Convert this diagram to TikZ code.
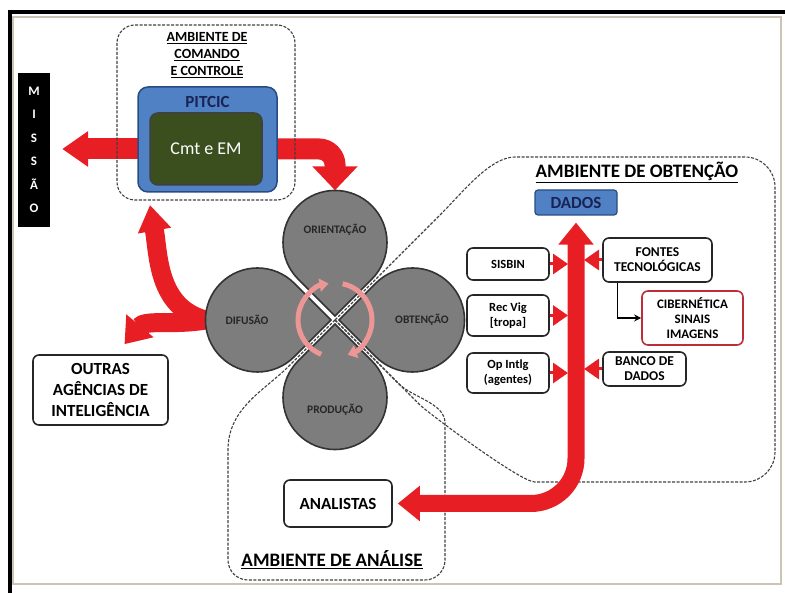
\documentclass[tikz,border=0pt]{standalone}
\usepackage{fontspec}
\setmainfont{Carlito}
\usepackage{tikz}
\usetikzlibrary{calc,arrows.meta,positioning,backgrounds}
\definecolor{setared}{RGB}{232,30,37}
\definecolor{pitblue}{RGB}{79,129,196}
\definecolor{pitedge}{RGB}{40,75,130}
\definecolor{cmtgreen}{RGB}{58,78,30}
\definecolor{petalgray}{RGB}{125,125,125}
\definecolor{cyclepink}{RGB}{236,150,150}
\definecolor{frametan}{RGB}{205,195,180}
\definecolor{navy}{RGB}{25,35,85}
\definecolor{cibred}{RGB}{190,45,55}
\tikzset{
  caixa/.style={draw=black!85,line width=1.6pt,rounded corners=6pt,fill=white,align=center,inner sep=1pt},
  ambiente/.style={draw=black!75,line width=1.1pt,dash pattern=on 3pt off 1.5pt},
  seta/.style={draw=setared,line width=21pt,-{Triangle[width=40pt,length=24pt]}},
  petala/.style={fill=petalgray,draw=black!80,line width=1.6pt},
  rotulo/.style={font=\bfseries\fontsize{11.5}{12}\selectfont,text=black!85},
  aba/.style={draw=setared,line width=3pt,-{Triangle[width=20pt,length=15pt]}},
  ciclo/.style={draw=cyclepink,line width=5pt,-{Triangle[width=13pt,length=9pt]}}
}

\begin{document}
\begin{tikzpicture}[x=1pt,y=1pt]
  \useasboundingbox (0,0) rectangle (785,593);
  % moldura
  \draw[frametan,line width=1.5pt] (13,9) rectangle (781,576);
  \draw[line width=4pt] (8,581) -- (785,581);
  \draw[line width=4pt] (10,583) -- (10,0);

  \node[fill=black,text=white,minimum width=32,minimum height=154,inner sep=0,align=center,
        font=\bfseries\fontsize{13}{23.5}\selectfont] (missao) at (34,443) {M\\I\\S\\S\\Ã\\O};

  \draw[ambiente,rounded corners=18] (117,568) rectangle (295,393);
  \node[font=\bfseries\fontsize{14}{17}\selectfont,align=center] (tcomando) at (207,538)
       {\underline{AMBIENTE DE}\\\underline{COMANDO}\\\underline{E CONTROLE}};
  \node[draw=pitedge,fill=pitblue,line width=1.5pt,rounded corners=10,minimum width=139,minimum height=105] (pitcic) at (207.5,453.5) {};
  \node[font=\bfseries\fontsize{17}{17}\selectfont,text=navy] (tpitcic) at (207.5,491) {PITCIC};
  \node[draw=black!75,fill=cmtgreen,line width=1.5pt,rounded corners=8,minimum width=112,minimum height=72,
        text=white,font=\fontsize{18}{18}\selectfont] (cmt) at (206,444) {Cmt e EM};

  % ciclo
  \coordinate (fc) at (335,273);
  \foreach \nome/\a in {orient/90,obt/0,prod/-90,dif/180}
    \node[circle,minimum size=104,inner sep=0] (\nome) at ($(fc)+(\a:77.5)$) {};
  \foreach \a in {90,0,-90,180}
    \filldraw[petala] ($(fc)+(\a:4)$) -- ++(\a-45:52) arc[start angle=\a-135,end angle=\a+135,radius=52] -- cycle;
  \node[rotulo] (torient) at ($(fc)+(90:90)$) {ORIENTAÇÃO};
  \node[rotulo] (tobt) at ($(fc)+(0:87)$) {OBTENÇÃO};
  \node[rotulo] (tprod) at ($(fc)+(-90:90)$) {PRODUÇÃO};
  \node[rotulo] (tdif) at ($(fc)+(180:88)$) {DIFUSÃO};
  \draw[ciclo] ($(fc)+(248:37)$) arc[start angle=248,end angle=100,radius=37];
  \draw[ciclo] ($(fc)+(78:37)$) arc[start angle=78,end angle=-70,radius=37];

  \node[caixa,font=\bfseries\fontsize{17}{21}\selectfont,minimum width=135,minimum height=70] (outras) at (100.5,203)
       {OUTRAS\\AGÊNCIAS DE\\INTELIGÊNCIA};
  \node[caixa,font=\bfseries\fontsize{17}{17}\selectfont,minimum width=108,minimum height=47] (analistas) at (338,89.5) {ANALISTAS};
  \node[font=\bfseries\fontsize{19}{19}\selectfont] (tanalise) at (332,33) {\underline{AMBIENTE DE ANÁLISE}};

  % obtencao
  \node[font=\bfseries\fontsize{19}{19}\selectfont] (tobtencao) at (637,421) {\underline{AMBIENTE DE OBTENÇÃO}};
  \node[draw=pitedge,fill=pitblue,line width=1.2pt,rounded corners=3,minimum width=82,minimum height=25,
        text=navy,font=\bfseries\fontsize{17}{17}\selectfont] (dados) at (576,390.5) {DADOS};
  \node[caixa,font=\bfseries\fontsize{12.5}{15}\selectfont,minimum width=82,minimum height=32] (sisbin) at (508,329) {SISBIN};
  \node[caixa,font=\bfseries\fontsize{12.5}{15}\selectfont,minimum width=82,minimum height=41] (recvig) at (508,277.5) {Rec Vig\\{[tropa]}};
  \node[caixa,font=\bfseries\fontsize{12.5}{15}\selectfont,minimum width=82,minimum height=40] (opintlg) at (508,220) {Op Intlg\\(agentes)};
  \node[caixa,font=\bfseries\fontsize{13.5}{15}\selectfont,minimum width=109,minimum height=44] (fontes) at (657.5,333) {FONTES\\TECNOLÓGICAS};
  \node[caixa,draw=cibred,font=\bfseries\fontsize{13}{15}\selectfont,minimum width=101,minimum height=54] (cib) at (692.5,275) {CIBERNÉTICA\\SINAIS\\IMAGENS};
  \node[caixa,font=\bfseries\fontsize{13.5}{15}\selectfont,minimum width=83,minimum height=34] (banco) at (644.5,224) {BANCO DE\\DADOS};
  \draw[line width=1.2pt,-{Stealth[length=7pt,width=7pt]}] ([xshift=-40]fontes.south) |- (cib.west);

  \coordinate (trunkL) at ([xshift=-8]dados.south);
  \coordinate (trunkR) at ([xshift=8]dados.south);
  \coordinate (comandoTip) at (150,388);

  \begin{scope}[on background layer]
    \draw[ambiente,rounded corners=30] (fc) -- ($(fc)+(45:120)$) .. controls ($(fc)+(45:180)$) and (490,436) .. (545,436)
      -- (775,436) -- (775,111) -- (565,111) .. controls (520,111) and ($(fc)+(-45:130)$) .. ($(fc)+(-45:90)$) -- (fc);
    \draw[ambiente,rounded corners=20] (fc) -- ($(fc)+(225:45)$) .. controls ($(fc)+(225:100)$) and (228,185) .. (228,123)
      -- (228,13) -- (445,13) -- (445,150) .. controls (445,190) and ($(fc)+(-45:110)$) .. ($(fc)+(-45:70)$) -- (fc);

    \draw[seta,-{Triangle[width=34pt,length=26pt]}] (cmt.west) -- ([xshift=12]cmt.west -| missao.east);
    \draw[seta,rounded corners=16,-{Triangle[width=44pt,length=24pt]}] (cmt.east) -| (orient.north);
    \draw[seta,line width=19pt,-{Triangle[width=32pt,length=26pt]}] (dif.west) to[out=165,in=-80] (comandoTip);
    \draw[seta,line width=19pt,-{Triangle[width=34pt,length=24pt]}] (dif.west) to[out=190,in=50] ([shift={(24,10)}]outras.north);

    \foreach \b in {sisbin,recvig,opintlg}
      \draw[aba] (\b.east) -- (\b.east -| trunkL);
    \foreach \b in {fontes,banco}
      \draw[aba] (\b.west) -- (\b.west -| trunkR);
    \draw[seta,line width=17pt,rounded corners=45,{Triangle[width=34pt,length=22pt]}-{Triangle[width=34pt,length=22pt]}]
      ([xshift=5]analistas.east) -| ([yshift=-7]dados.south);
  \end{scope}
\end{tikzpicture}
\end{document}
